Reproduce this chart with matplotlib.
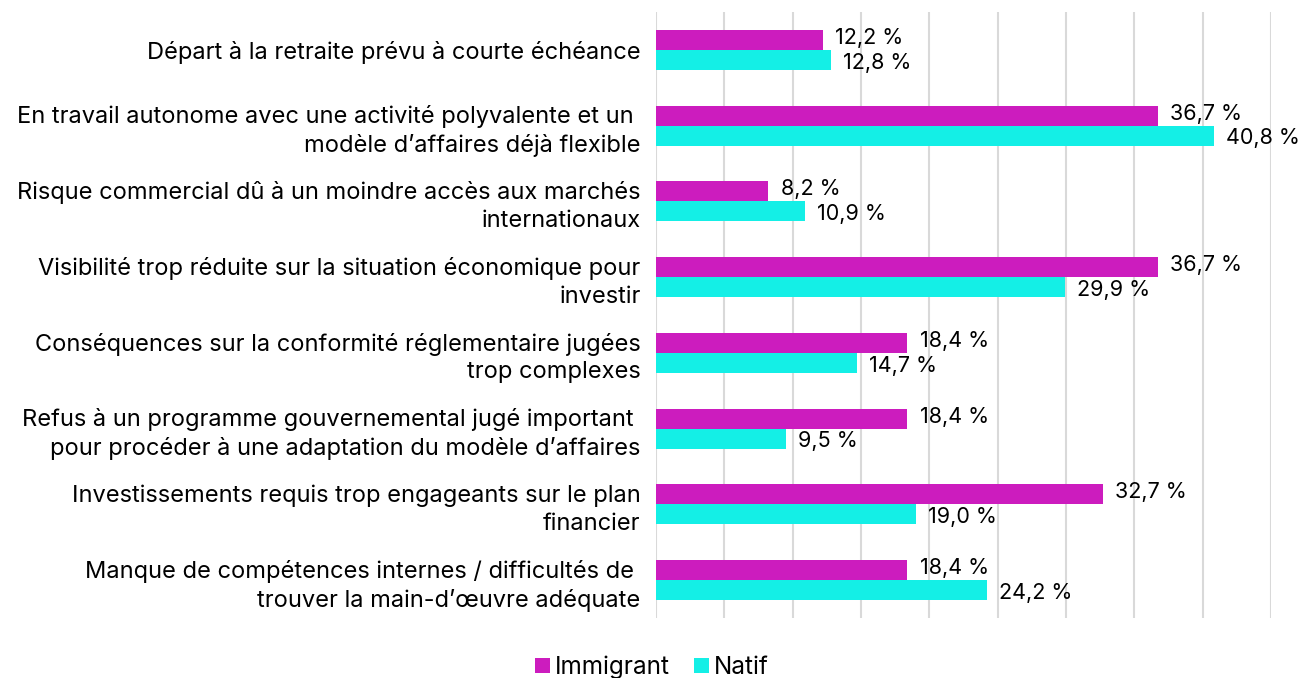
import matplotlib.pyplot as plt
import numpy as np

plt.rcParams['font.family'] = ['Inter', 'DejaVu Sans']

# Données
categories = [
    "Départ à la retraite prévu à courte échéance",
    "En travail autonome avec une activité polyvalente et un \nmodèle d’affaires déjà flexible",
    "Risque commercial dû à un moindre accès aux marchés\ninternationaux",
    "Visibilité trop réduite sur la situation économique pour\ninvestir",
    "Conséquences sur la conformité réglementaire jugées\ntrop complexes",
    "Refus à un programme gouvernemental jugé important \npour procéder à une adaptation du modèle d’affaires",
    "Investissements requis trop engageants sur le plan\nfinancier",
    "Manque de compétences internes / difficultés de \ntrouver la main-d’œuvre adéquate",
]
immigrant = [12.2, 36.7, 8.2, 36.7, 18.4, 18.4, 32.7, 18.4]
natif = [12.8, 40.8, 10.9, 29.9, 14.7, 9.5, 19.0, 24.2]

c_imm = '#CC1CBE'
c_nat = '#14EFE6'

fig = plt.figure(figsize=(13.01, 6.78), dpi=100)
ax = fig.add_axes([656 / 1301, 1 - 618 / 678, (1271 - 656) / 1301, (618 - 12) / 678])

y = np.arange(len(categories))
h = 0.265
ax.barh(y - h / 2, immigrant, height=h, color=c_imm, label='Immigrant', zorder=3)
ax.barh(y + h / 2, natif, height=h, color=c_nat, label='Natif', zorder=3)

def fmt(v):
    return f"{v:.1f} %".replace('.', ',')

for yi, v in zip(y, immigrant):
    ax.annotate(fmt(v), (v, yi - h / 2), xytext=(9, 1.5), textcoords='offset points',
                va='center', ha='left', fontsize=15.5)
for yi, v in zip(y, natif):
    ax.annotate(fmt(v), (v, yi + h / 2), xytext=(9, -2), textcoords='offset points',
                va='center', ha='left', fontsize=15.5)

ax.set_xlim(0, 45)
ax.set_ylim(len(categories) - 0.5, -0.5)
ax.set_xticks(np.arange(0, 46, 5))
ax.set_xticklabels([])
ax.tick_params(axis='x', length=0)
ax.set_yticks(y)
ax.set_yticklabels(categories, fontsize=17, linespacing=1.33)
ax.tick_params(axis='y', length=0, pad=11)
ax.grid(axis='x', color='#d9d9d9', linewidth=1.5, zorder=0)
for s in ax.spines.values():
    s.set_visible(False)

fig.legend(loc='lower center', bbox_to_anchor=(0.501, -0.034), ncol=2, frameon=False,
           fontsize=17.5, handlelength=0.6, handleheight=0.6, handletextpad=0.2,
           columnspacing=1.0)

fig.savefig('out.png', dpi=100)
